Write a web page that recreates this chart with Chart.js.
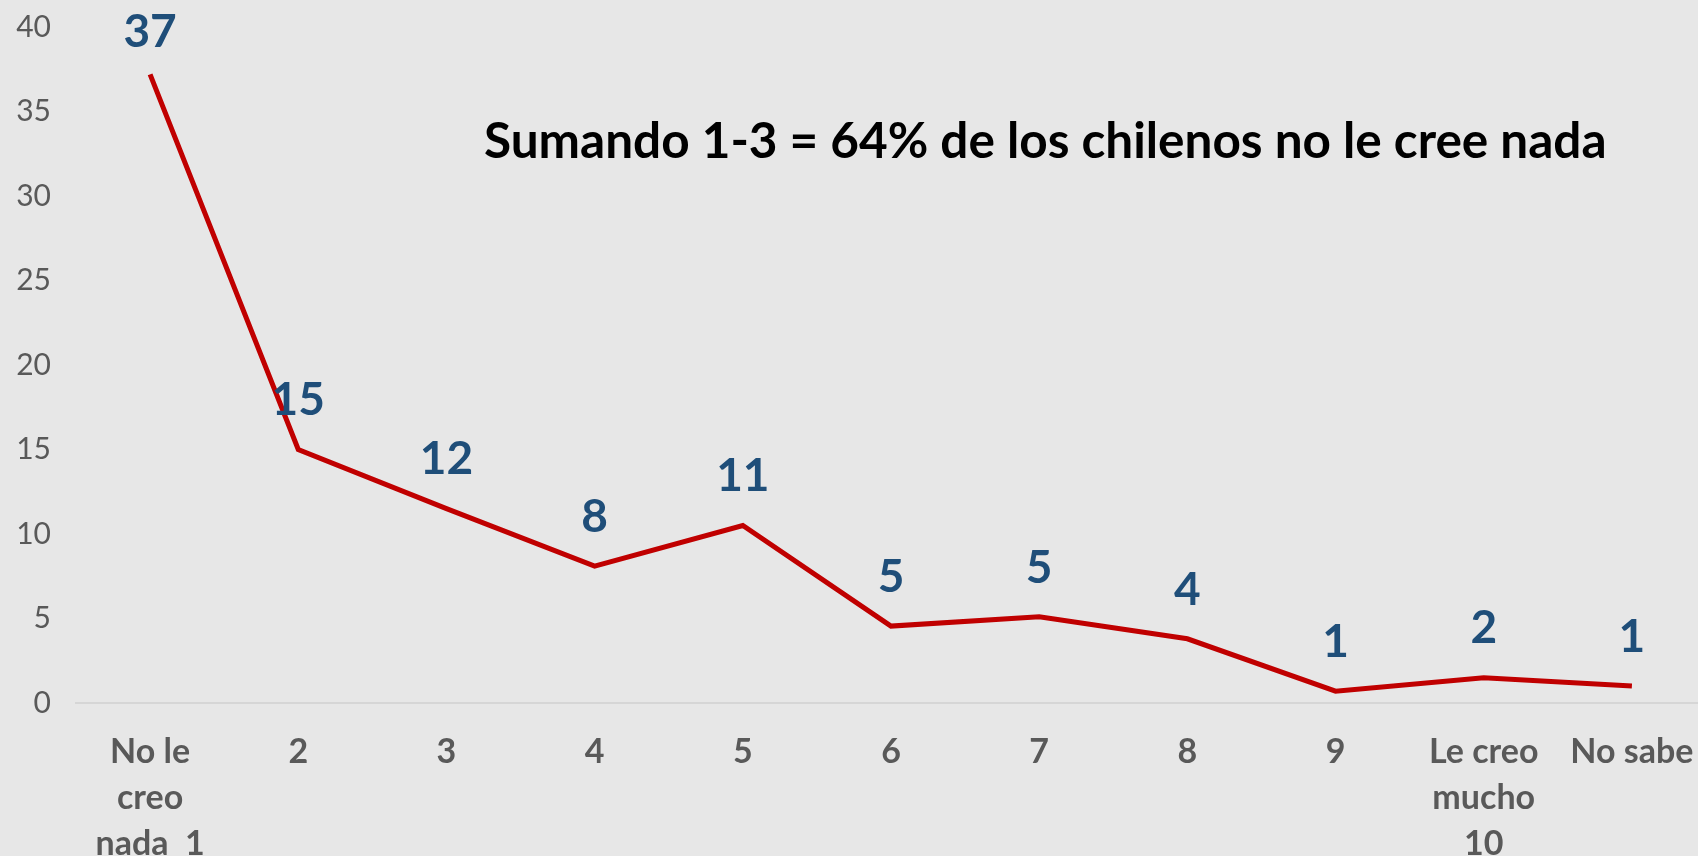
<!DOCTYPE html>
<html lang="es">
<head>
<meta charset="UTF-8">
<title>Credibilidad</title>
<script src="https://cdn.jsdelivr.net/npm/chart.js"></script>
<style>
  html, body { margin:0; padding:0; background:#e7e7e7; overflow:hidden; }
  #wrap { position:relative; width:1706px; height:856px; }
</style>
</head>
<body>
<div id="wrap"><canvas id="chart"></canvas></div>
<script>
// categories (multi-line labels as in the original)
const categories = [['No le', 'creo', 'nada  1'], '2', '3', '4', '5', '6', '7', '8', '9', ['Le creo', 'mucho', '10'], 'No sabe'];
// percent values
const values = [37.2, 15.0, 11.5, 8.1, 10.5, 4.55, 5.1, 3.8, 0.7, 1.5, 1.0];
// labels shown above each point
const valueLabels = ['37', '15', '12', '8', '11', '5', '5', '4', '1', '2', '1'];
const yTicks = [0, 5, 10, 15, 20, 25, 30, 35, 40];
const note = 'Sumando 1-3 = 64% de los chilenos no le cree nada';

const FONT = 'Lato, "Open Sans", sans-serif';

// draws the blue value labels and the black note
const labelsPlugin = {
  id: 'labels',
  afterDatasetsDraw(chart) {
    const { ctx, chartArea } = chart;
    const meta = chart.getDatasetMeta(0);
    ctx.save();
    ctx.fillStyle = '#1f4e79';
    ctx.font = 'bold 46px ' + FONT;
    ctx.textAlign = 'center';
    ctx.textBaseline = 'middle';
    meta.data.forEach((pt, i) => {
      const y = Math.max(pt.y - 49, chartArea.top + 5);
      ctx.fillText(valueLabels[i], pt.x, y);
    });
    ctx.fillStyle = '#000';
    ctx.font = 'bold 49.5px ' + FONT;
    ctx.textAlign = 'left';
    ctx.fillText(note, 484, 142);
    ctx.restore();
  }
};

new Chart(document.getElementById('chart'), {
  type: 'line',
  data: {
    labels: categories,
    datasets: [{
      data: values,
      borderColor: '#c00000',
      borderWidth: 5,
      pointRadius: 0,
      tension: 0,
      fill: false
    }]
  },
  options: {
    responsive: true,
    maintainAspectRatio: false,
    animation: false,
    layout: { padding: { top: 27, left: 0, right: 0, bottom: 0 } },
    plugins: { legend: { display: false }, tooltip: { enabled: false } },
    scales: {
      x: {
        offset: true,
        grid: { display: false, tickLength: 26 },
        border: { display: true, color: '#d6d6d6', width: 2 },
        ticks: {
          color: '#595959',
          font: { family: FONT, size: 34, weight: 'bold', lineHeight: 1.35 },
          padding: 0,
          maxRotation: 0,
          autoSkip: false
        },
        afterFit(scale) { scale.height = 153; }
      },
      y: {
        min: 0,
        max: 40,
        afterBuildTicks(scale) { scale.ticks = yTicks.map(v => ({ value: v })); },
        grid: { display: false },
        border: { display: false },
        ticks: {
          color: '#595959',
          font: { family: FONT, size: 30 },
          padding: 17
        },
        afterFit(scale) {
          scale.width = 76;
          scale.paddingTop = 0;
          scale.paddingBottom = 0;
        }
      }
    }
  },
  plugins: [labelsPlugin]
});
</script>
</body>
</html>
